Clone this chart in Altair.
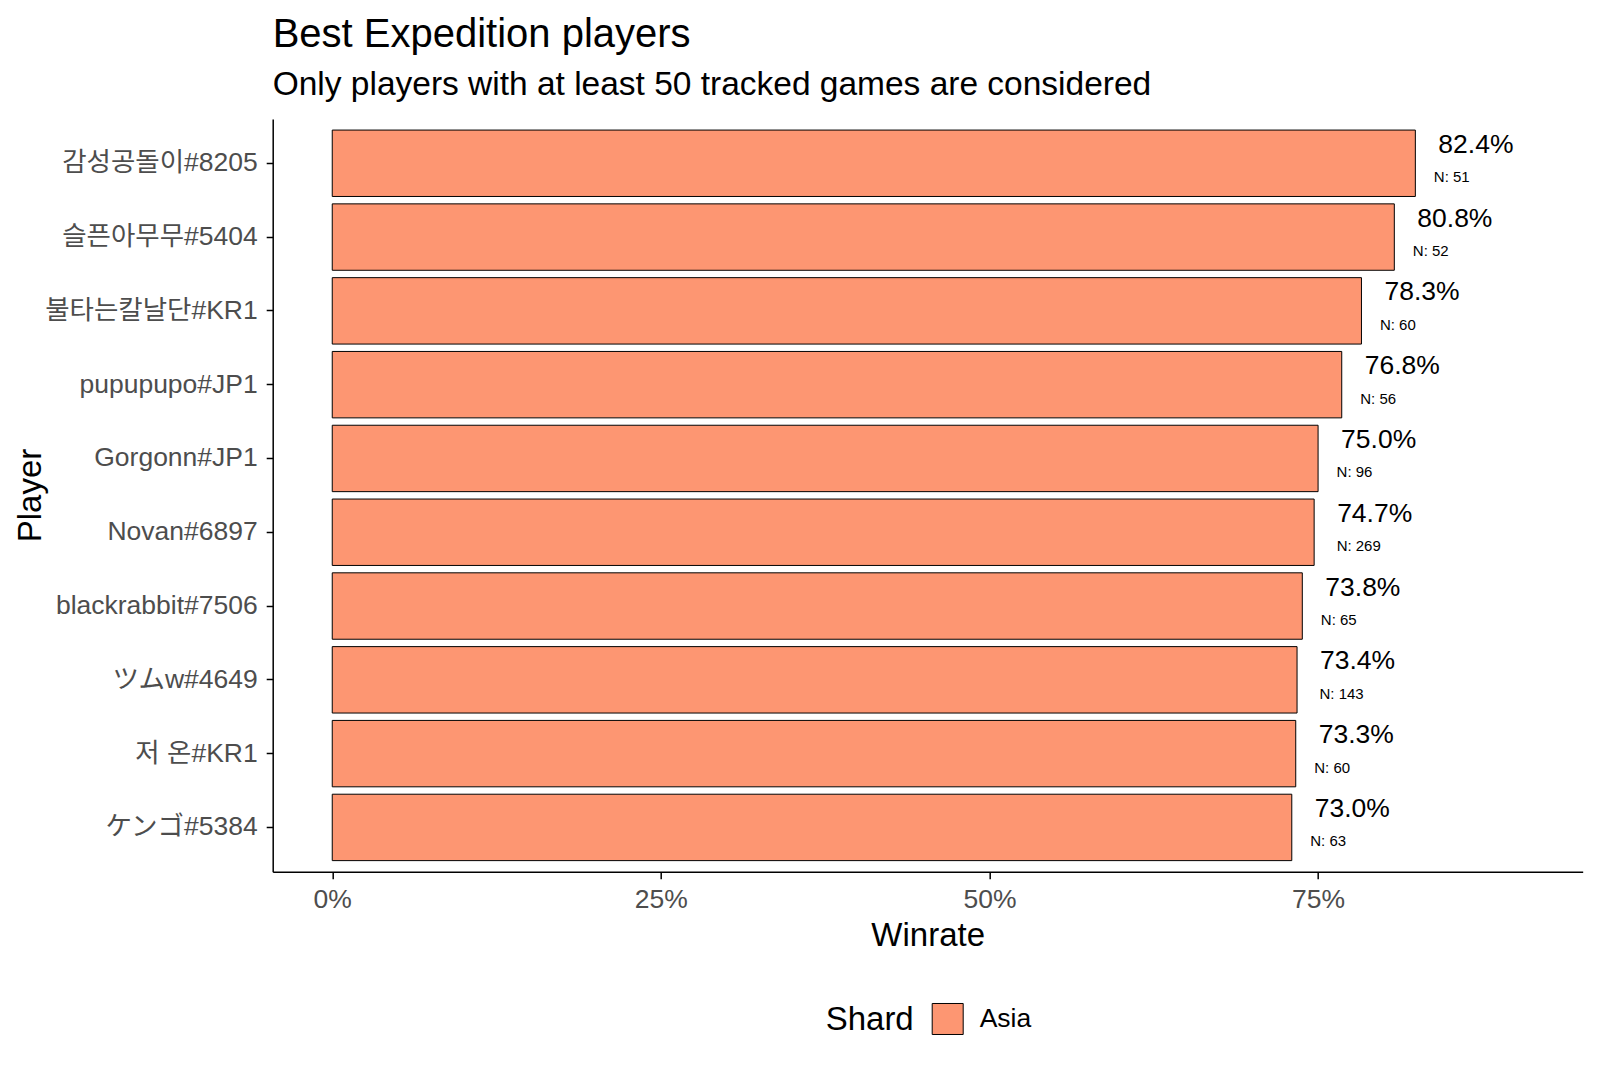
import altair as alt
import pandas as pd

players = ["감성공돌이#8205", "슬픈아무무#5404", "불타는칼날단#KR1", "pupupupo#JP1", "Gorgonn#JP1",
           "Novan#6897", "blackrabbit#7506", "ツムw#4649", "저 온#KR1", "ケンゴ#5384"]
winrate = [0.824, 0.808, 0.783, 0.768, 0.750, 0.747, 0.738, 0.734, 0.733, 0.730]
games = [51, 52, 60, 56, 96, 269, 65, 143, 60, 63]
shard = ["Asia"] * 10

df = pd.DataFrame({"player": players, "winrate": winrate, "n": games, "shard": shard})
df["nlabel"] = ["N: " + str(v) for v in games]
df["ndigits"] = [len(str(v)) for v in games]

FONT = "Liberation Sans, Arial, 'Noto Sans CJK KR', 'Noto Sans CJK JP', sans-serif"
BAR = "#FD9672"

yenc = alt.Y("player:N", sort=players, title="Player",
             scale=alt.Scale(paddingInner=0.1, paddingOuter=0.15),
             axis=alt.Axis(labelFontSize=26.5, labelColor="#4d4d4d", labelFont=FONT, labelLimit=0,
                           tickSize=6.5, labelPadding=9, tickColor="black", tickWidth=1.5,
                           domainColor="black", domainWidth=1.5,
                           titleFontSize=33, titleFont=FONT, titleFontWeight="normal",
                           titleColor="black", titleX=-242, titleY=376, titleAngle=-90,
                           titleAlign="center", titleBaseline="middle"))

xscale = alt.Scale(domain=[-0.0453, 0.9513], nice=False, zero=False)

bars = alt.Chart(df).mark_bar(stroke="black", strokeWidth=1).encode(
    x=alt.X("winrate:Q", scale=xscale, title="Winrate",
            axis=alt.Axis(values=[0, 0.25, 0.5, 0.75], format=".0%", grid=False,
                          labelFontSize=26.5, labelColor="#4d4d4d", labelFont=FONT,
                          tickSize=7, labelPadding=8, tickColor="black", tickWidth=1.5,
                          domainColor="black", domainWidth=1.5,
                          titleFontSize=33, titleFont=FONT, titleFontWeight="normal",
                          titleColor="black", titlePadding=6)),
    x2=alt.datum(0),
    y=yenc,
    fill=alt.Fill("shard:N", scale=alt.Scale(range=[BAR]),
                  legend=alt.Legend(title="Shard", orient="none", direction="horizontal",
                                    legendX=553, legendY=884, titleOrient="left",
                                    titleFontSize=33, titleFont=FONT, titleFontWeight="normal",
                                    titleColor="black", titlePadding=17,
                                    labelFontSize=26.5, labelFont=FONT, labelColor="black",
                                    labelOffset=16, symbolType="square", symbolSize=961,
                                    symbolStrokeColor="black", symbolStrokeWidth=1,
                                    titleBaseline="middle")),
)

pct = alt.Chart(df).mark_text(align="left", baseline="middle", dx=23, dy=-18.5,
                              fontSize=26.5, font=FONT, color="black").encode(
    x=alt.X("winrate:Q", scale=xscale),
    y=alt.Y("player:N", sort=players),
    text=alt.Text("winrate:Q", format=".1%"),
)

n2 = alt.Chart(df).transform_filter("datum.ndigits < 3").mark_text(
    align="left", baseline="middle", dx=18.5, dy=14, fontSize=15, font=FONT, color="black").encode(
    x=alt.X("winrate:Q", scale=xscale),
    y=alt.Y("player:N", sort=players),
    text="nlabel:N",
)

n3 = alt.Chart(df).transform_filter("datum.ndigits >= 3").mark_text(
    align="left", baseline="middle", dx=22.5, dy=14, fontSize=15, font=FONT, color="black").encode(
    x=alt.X("winrate:Q", scale=xscale),
    y=alt.Y("player:N", sort=players),
    text="nlabel:N",
)

chart = alt.layer(bars, pct, n2, n3).properties(
    width=1310, height=752.7,
    background="white",
    autosize=alt.AutoSizeParams(type="none"),
    padding={"left": 264.7, "top": 111, "right": 5, "bottom": 170},
    title=alt.TitleParams(text="Best Expedition players",
                          subtitle="Only players with at least 50 tracked games are considered",
                          anchor="start", frame="group", fontSize=40, subtitleFontSize=33.5,
                          font=FONT, subtitleFont=FONT, fontWeight="normal", color="black",
                          subtitleColor="black", offset=17, subtitlePadding=14),
).configure_view(stroke=None)

chart.save("out.html", embed_options={"renderer": "svg", "actions": False})
